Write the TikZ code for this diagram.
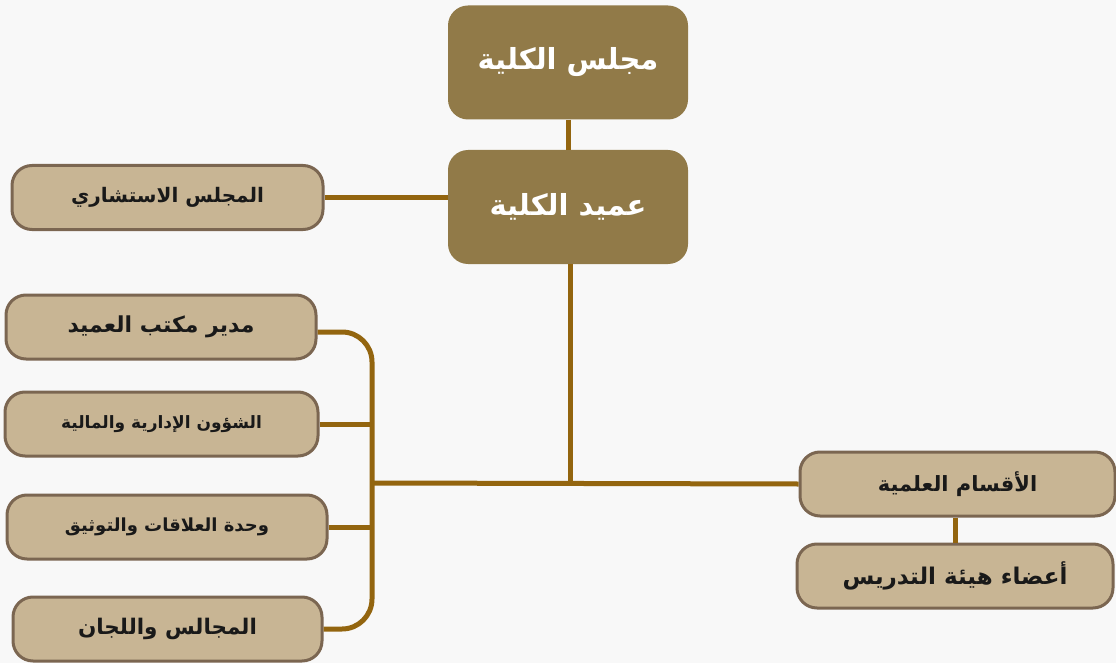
\documentclass[tikz,border=0pt]{standalone}
\usepackage{fontspec}
\newfontfamily\arabicfont[Script=Arabic]{DejaVu Sans}
\TeXXeTstate=1
\definecolor{bgc}{HTML}{F8F8F8}
\definecolor{darkfill}{HTML}{917A48}
\definecolor{lightfill}{HTML}{C8B594}
\definecolor{lightborder}{HTML}{7B6651}
\definecolor{linec}{HTML}{93650F}
\tikzset{
  darkbox/.style={fill=darkfill, rounded corners=20pt, text=white, minimum width=240pt, minimum height=114pt, inner sep=0pt,
    font=\arabicfont\bfseries\fontsize{29}{32}\selectfont},
  lightbox/.style={fill=lightfill, draw=lightborder, line width=3pt, rounded corners=20pt, text=black!90, minimum height=64pt, inner sep=0pt,
    font=\arabicfont\bfseries\fontsize{21}{24}\selectfont},
  fs/.style={font=\arabicfont\bfseries\fontsize{#1}{#1}\selectfont},
  conn/.style={draw=linec, line width=5pt},
}
\begin{document}
\begin{tikzpicture}[x=1pt,y=-1pt]
\fill[bgc] (0,0) rectangle (1116,663);
\useasboundingbox (0,0) rectangle (1116,663);
\node[darkbox] (council) at (568,62.5) {\beginR مجلس الكلية\endR};
\node[darkbox] (dean) at (568,207) {\beginR عميد الكلية\endR};
\coordinate (bx) at (372,483);
\coordinate (hub) at (570,483);
\draw[conn] (council.south) -- (dean.north);
\node[lightbox, fs=20, minimum width=311pt] (adv) at (167.5,197.5) {\beginR المجلس الاستشاري\endR};
\node[lightbox, fs=22, minimum width=310pt] (mgr) at (161,327) {\beginR مدير مكتب العميد\endR};
\node[lightbox, fs=17, minimum width=313pt] (admin) at (161.5,424) {\beginR الشؤون الإدارية والمالية\endR};
\node[lightbox, fs=18, minimum width=320pt] (rel) at (167,527) {\beginR وحدة العلاقات والتوثيق\endR};
\node[lightbox, fs=21.5, minimum width=309pt] (comm) at (167.5,629) {\beginR المجالس واللجان\endR};
\node[lightbox, fs=21, minimum width=315pt] (sci) at (957.5,484) {\beginR الأقسام العلمية\endR};
\node[lightbox, fs=23, minimum width=316pt] (fac) at (955,576) {\beginR أعضاء هيئة التدريس\endR};
\draw[conn] (adv.east) -- (adv.east -| dean.west);
\draw[conn] (dean.south -| hub) -- (hub);
\draw[conn] (bx) -- (sci.west);
\draw[conn] (sci.south -| fac.north) -- (fac.north);
\draw[conn, rounded corners=30pt] ([yshift=-5pt]mgr.east) -| (comm.east -| bx) -- (comm.east);
\draw[conn] (admin.east) -- (admin.east -| bx);
\draw[conn] (rel.east) -- (rel.east -| bx);
\end{tikzpicture}
\end{document}
